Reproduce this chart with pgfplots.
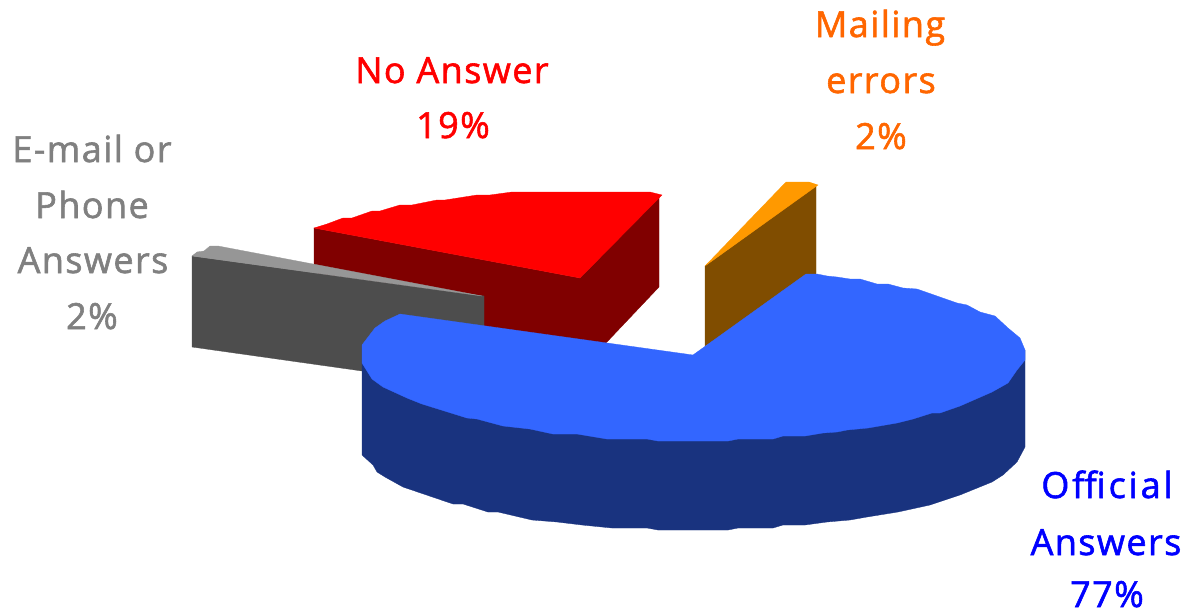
\documentclass[border=0pt]{standalone}
\usepackage{pgfplots}
\pgfplotsset{compat=1.18}
\usepackage{fontspec}
\setmainfont{Open Sans}
\newfontfamily\lab[LetterSpace=4,FakeBold=1.6]{Open Sans}
\newfontfamily\labw[LetterSpace=8,FakeBold=1.6]{Open Sans}
\definecolor{cRed}{HTML}{FF0000}
\definecolor{cRedD}{HTML}{800000}
\definecolor{cGray}{HTML}{969696}
\definecolor{cGrayD}{HTML}{4D4D4D}
\definecolor{cOr}{HTML}{FF9900}
\definecolor{cOrD}{HTML}{804D00}
\definecolor{cBlue}{HTML}{3366FF}
\definecolor{cBlueD}{HTML}{19337F}
\definecolor{tOr}{HTML}{FF6600}
\definecolor{tGray}{HTML}{808080}
\tikzset{lbl/.style={anchor=base,inner sep=0pt,font=\fontsize{36}{36}\selectfont\lab}}
\begin{document}
\begin{tikzpicture}
\begin{axis}[
  width=1184pt,height=613pt,scale only axis,
  xmin=0,xmax=1184,ymin=0,ymax=613,y dir=reverse,
  hide axis,clip=false,
  every axis plot/.append style={mark=none,line width=0.3pt},
]
% page corners
\addplot[draw=none] coordinates {(0,0) (1184,613)};
% No Answer 19%
\addplot[fill=cRedD,draw=cRedD] coordinates {(314,228) (580,278) (580,350) (314,320)} --cycle;
\addplot[fill=cRedD,draw=cRedD] coordinates {(580,278) (659,197) (659,287) (606,343) (580,343)} --cycle;
\addplot[fill=cRed,draw=cRed] coordinates {(314,228) (327,224) (343,218) (352,218) (372,211) (380,211) (400,205) (412,205) (437,200) (445,200) (477,195) (490,195) (512,192) (650,192) (662,195) (580,278)} --cycle;
% E-mail or Phone Answers 2%
\addplot[fill=cGrayD,draw=cGrayD] coordinates {(192,256) (484,296) (484,388) (362,371) (192,347)} --cycle;
\addplot[fill=cGray,draw=cGray] coordinates {(192,256) (197,252) (204,251) (210,246) (218,246) (482,296)} --cycle;
% Mailing errors 2%
\addplot[fill=cOrD,draw=cOrD] coordinates {(705,266) (816,186) (816,280) (705,346)} --cycle;
\addplot[fill=cOr,draw=cOr] coordinates {(705,266) (786,182) (809,182) (818,185)} --cycle;
% Official Answers 77%
\addplot[fill=cBlueD,draw=cBlueD] coordinates {(362,345) (362,455) (373,465) (377,472) (385,477) (403,487) (453,504) (463,504) (488,512) (498,512) (532,520) (557,522) (582,525) (612,528) (647,528) (658,530) (728,530) (738,528) (773,528) (783,525) (805,525) (827,522) (850,520) (867,517) (898,512) (930,505) (960,495) (992,482) (1003,475) (1017,462) (1025,447) (1025,350) (800,400)} --cycle;
\addplot[fill=cBlue,draw=cBlue] coordinates {(693,355) (806,274) (817,274) (827,276) (837,277) (850,279) (860,279) (877,284) (888,284) (903,288) (917,289) (957,303) (967,305) (980,312) (995,316) (1008,328) (1020,338) (1025,350) (1025,360) (1017,370) (1008,383) (992,392) (960,406) (940,413) (932,413) (913,419) (897,423) (868,428) (847,430) (837,432) (823,433) (805,436) (783,436) (773,439) (738,439) (728,441) (658,441) (647,439) (607,439) (577,434) (553,434) (530,429) (503,426) (477,419) (467,418) (422,404) (407,398) (383,387) (372,379) (362,363) (362,345) (375,328) (385,321) (400,314)} --cycle;
% labels
\node[lbl,text=red] at (axis cs:452,83) {No Answer};
\node[lbl,text=red] at (axis cs:453,138) {19\%};
\node[lbl,text=tOr] at (axis cs:880,37) {Mailing};
\node[lbl,text=tOr] at (axis cs:881,93) {errors};
\node[lbl,text=tOr] at (axis cs:881,149) {2\%};
\node[lbl,text=tGray] at (axis cs:92,162) {E-mail or};
\node[lbl,text=tGray] at (axis cs:92,218) {Phone};
\node[lbl,text=tGray] at (axis cs:93,273) {Answers};
\node[lbl,text=tGray] at (axis cs:92,329) {2\%};
\node[lbl,text=blue,font=\fontsize{36}{36}\selectfont\labw] at (axis cs:1107,498) {Of\kern0pt f\kern0pt icial};
\node[lbl,text=blue] at (axis cs:1106,555) {Answers};
\node[lbl,text=blue] at (axis cs:1107,607) {77\%};
\end{axis}
\end{tikzpicture}
\end{document}
